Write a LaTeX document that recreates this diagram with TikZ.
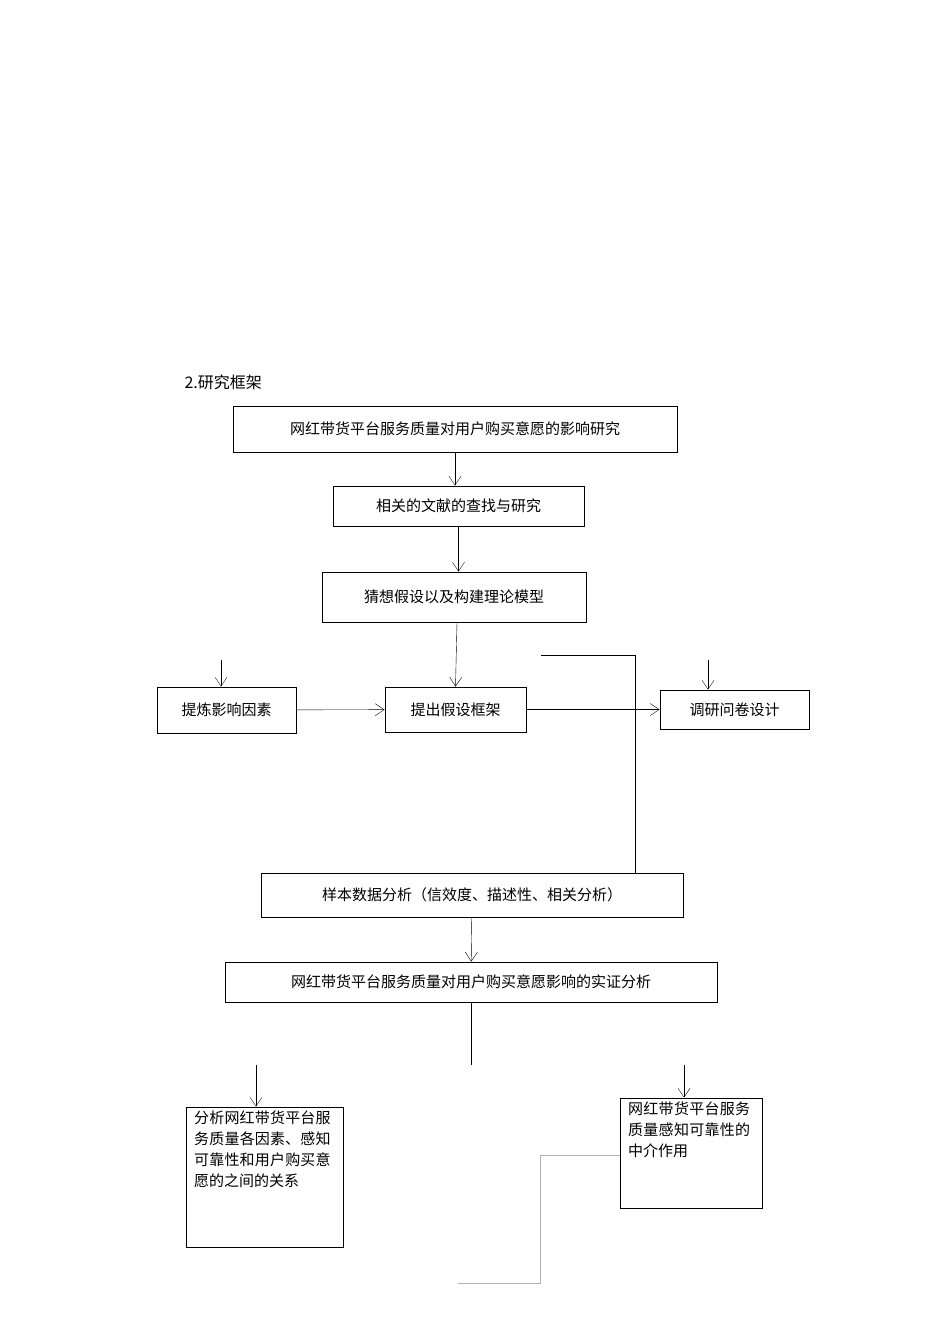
\documentclass[tikz,border=0pt]{standalone}
\usepackage{fontspec}
\setmainfont{Noto Sans CJK SC}
\XeTeXlinebreaklocale "zh"
\XeTeXlinebreakskip=0pt plus 1pt
\usetikzlibrary{arrows.meta,positioning}

\begin{document}
\begin{tikzpicture}[x=1pt, y=-1pt, >={Straight Barb[length=9pt,width=12pt]},
box/.style = {draw, rectangle, line width=0.8pt, inner sep=0pt, font=\fontsize{15}{19}\selectfont},
]
    \useasboundingbox (0,0) rectangle (950,1344);
    \node [anchor=west, font=\fontsize{16}{19}\selectfont] (title) at (181,382) {2.研究框架};
    \node [box, minimum width=444, minimum height=46] (topic) at (455,429) {网红带货平台服务质量对用户购买意愿的影响研究};
    \node [box, minimum width=251, minimum height=40] (lit) at (458.5,506) {相关的文献的查找与研究};
    \node [box, minimum width=264, minimum height=50] (hypo) at (454,597) {猜想假设以及构建理论模型};
    \node [box, minimum width=139, minimum height=46] (factor) at (226.5,710) {提炼影响因素};
    \node [box, minimum width=141, minimum height=45] (frame) at (455.5,709.5) {提出假设框架};
    \node [box, minimum width=149, minimum height=39] (survey) at (734.5,709.5) {调研问卷设计};
    \node [box, minimum width=422, minimum height=44] (sample) at (472,895) {样本数据分析（信效度、描述性、相关分析）};
    \node [box, minimum width=492, minimum height=40] (empir) at (471,982) {网红带货平台服务质量对用户购买意愿影响的实证分析};
    \node [box, minimum width=157, minimum height=140] (rel) at (264.5,1177) {};
    \node [anchor=north west, text width=142, align=left, font=\fontsize{15}{21}\selectfont, inner sep=0pt] (reltext) at (194,1111) {分析网红带货平台服务质量各因素、感知可靠性和用户购买意愿的之间的关系};
    \node [box, minimum width=142, minimum height=110] (med) at (691,1153) {};
    \node [anchor=north west, text width=130, align=left, font=\fontsize{15}{21}\selectfont, inner sep=0pt] (medtext) at (628,1102) {网红带货平台服务质量感知可靠性的中介作用};

    \coordinate (inA) at (221,660);
    \coordinate (inB) at (708,660);
    \coordinate (inC) at (256,1065);
    \coordinate (inD) at (684,1065);
    \coordinate (stub) at (471,1065);
    \coordinate (lineA) at (541,655);
    \coordinate (grayend) at (458,1283);

    \draw[->] (455,0 |- topic.south) -- (455,0 |- lit.north);
    \draw[->] (lit) -- (lit |- hypo.north);
    \draw[->] (hypo.south) ++(3,0) -- (frame.north);
    \draw[->] (factor) -- (frame);
    \draw[->] (frame) -- (survey);
    \draw[->] (inA) -- (inA |- factor.north);
    \draw[->] (inB) -- (inB |- survey.north);
    \draw (lineA) -| (sample.north -| 635,0);
    \draw[->] (sample) -- (empir);
    \draw (empir.south) -- (stub);
    \draw[->] (inC) -- (inC |- rel.north);
    \draw[->] (inD) -- (inD |- med.north);
    \draw[gray!60] (med.west |- 0,1155) -- (540,1155) -- (540,1283) -- (grayend);
\end{tikzpicture}
\end{document}
